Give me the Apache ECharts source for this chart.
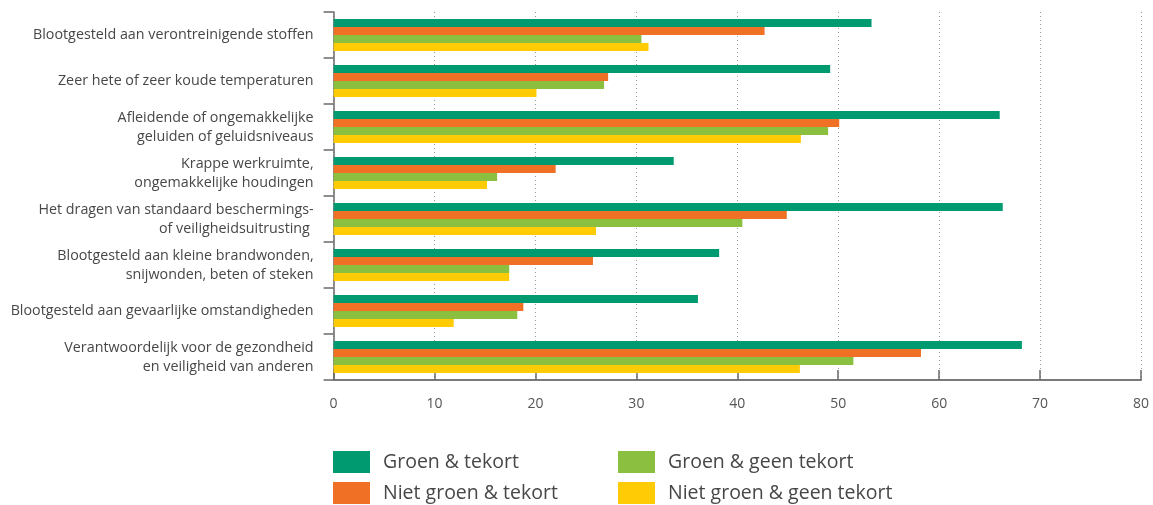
<!DOCTYPE html>
<html>
<head>
<meta charset="utf-8">
<script src="https://cdn.jsdelivr.net/npm/echarts@6/dist/echarts.min.js"></script>
<style>
  html, body { margin: 0; padding: 0; background: #ffffff; }
  #chart { width: 1153px; height: 505px; }
</style>
</head>
<body>
<div id="chart"></div>
<script>
// Werkomstandigheden per groep (%)
const categories = [
  'Blootgesteld aan verontreinigende stoffen',
  'Zeer hete of zeer koude temperaturen',
  'Afleidende of ongemakkelijke\ngeluiden of geluidsniveaus',
  'Krappe werkruimte,\nongemakkelijke houdingen',
  'Het dragen van standaard beschermings-\nof veiligheidsuitrusting ',
  'Blootgesteld aan kleine brandwonden,\nsnijwonden, beten of steken',
  'Blootgesteld aan gevaarlijke omstandigheden',
  'Verantwoordelijk voor de gezondheid\nen veiligheid van anderen'
];
const seriesNames = ['Groen & tekort', 'Niet groen & tekort', 'Groen & geen tekort', 'Niet groen & geen tekort'];
const groenTekort        = [53.3, 49.2, 66.0, 33.7, 66.3, 38.2, 36.1, 68.2];
const nietGroenTekort    = [42.7, 27.2, 50.1, 22.0, 44.9, 25.7, 18.8, 58.2];
const groenGeenTekort    = [30.5, 26.8, 49.0, 16.2, 40.5, 17.4, 18.2, 51.5];
const nietGroenGeenTekort= [31.2, 20.1, 46.3, 15.2, 26.0, 17.4, 11.9, 46.2];
const xTicks = [0, 10, 20, 30, 40, 50, 60, 70, 80];

const colors = ['#009a70', '#f07125', '#8bbf3f', '#ffcb05'];
const values = [groenTekort, nietGroenTekort, groenGeenTekort, nietGroenGeenTekort];
const FONT = '"Open Sans", "Noto Sans", sans-serif';

const chart = echarts.init(document.getElementById('chart'), null, { renderer: 'canvas' });

const series = seriesNames.map((name, i) => ({
  name: name,
  type: 'bar',
  data: values[i],
  barGap: '0%',
  barCategoryGap: '30%',
  itemStyle: { color: colors[i] },
  emphasis: { disabled: true }
}));

const legendStyle = {
  orient: 'vertical',
  top: 451,
  padding: 0,
  itemWidth: 37,
  itemHeight: 22,
  itemGap: 9,
  icon: 'rect',
  selectedMode: false,
  textStyle: { fontFamily: FONT, fontSize: 19.5, color: '#474747', padding: [0, 0, 0, 8] }
};

chart.setOption({
  animation: false,
  textStyle: { fontFamily: FONT },
  grid: { left: 333.6, right: 12, top: 12, bottom: 125 },
  legend: [
    Object.assign({ left: 333, data: [seriesNames[0], seriesNames[1]] }, legendStyle),
    Object.assign({ left: 618, data: [seriesNames[2], seriesNames[3]] }, legendStyle)
  ],
  xAxis: {
    type: 'value',
    min: xTicks[0],
    max: xTicks[xTicks.length - 1],
    interval: 10,
    axisLine: { show: true, lineStyle: { color: '#7a7a7a', width: 2 } },
    axisTick: { show: true, inside: true, length: 10, lineStyle: { color: '#6a6a6a', width: 1.5 } },
    axisLabel: { color: '#555555', fontSize: 14, margin: 17, fontFamily: FONT },
    splitLine: { show: true, lineStyle: { color: '#9a9a9a', type: [1, 3], width: 1 } }
  },
  yAxis: {
    type: 'category',
    data: categories,
    inverse: true,
    axisLine: { show: true, lineStyle: { color: '#6a6a6a', width: 1.5 } },
    axisTick: { show: true, inside: false, length: 10, lineStyle: { color: '#6a6a6a', width: 1.5 } },
    axisLabel: { color: '#474747', fontSize: 14.3, margin: 20, lineHeight: 19, fontFamily: FONT, align: 'right' },
    splitLine: { show: false }
  },
  series: series
});
</script>
</body>
</html>
